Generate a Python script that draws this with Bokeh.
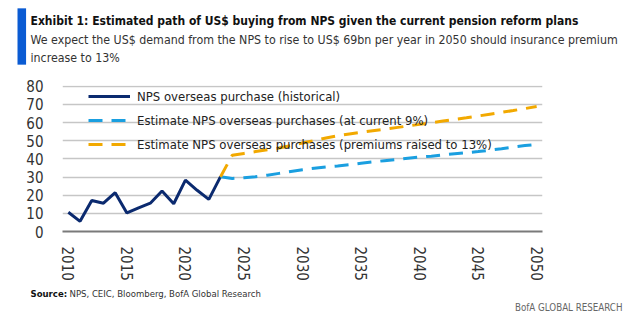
from bokeh.plotting import figure
from bokeh.models import Legend, LegendItem, Label, FixedTicker, Range1d
from bokeh.embed import file_html
from bokeh.resources import INLINE

# ---- data ----
hist_years = list(range(2010, 2024))
hist_vals = [10.6, 5.6, 17.1, 15.6, 21.4, 10.2, 13.0, 15.6, 22.3, 15.3, 28.3, 22.7, 17.7, 30.2]

proj_years = list(range(2023, 2051))
current_9 = [30.2, 29.2, 29.6, 30.2, 31.0, 32.0, 33.0, 34.0, 34.8, 35.5, 36.1, 36.8, 37.6, 38.3,
             39.0, 39.6, 40.3, 41.0, 41.5, 42.2, 42.8, 43.4, 44.0, 44.8, 45.6, 46.5, 47.3, 48.0]
raised_13 = [30.2, 42.0, 43.0, 44.0, 45.0, 46.0, 47.3, 48.7, 50.0, 51.5, 52.7, 53.7, 54.6, 55.5,
             56.3, 57.2, 58.1, 59.0, 59.9, 60.8, 61.7, 62.6, 63.6, 64.6, 65.6, 66.6, 67.7, 68.8]

x_ticks = [2010, 2015, 2020, 2025, 2030, 2035, 2040, 2045, 2050]
y_ticks = [0, 10, 20, 30, 40, 50, 60, 70, 80]

series_labels = ["NPS overseas purchase (historical)",
                 "Estimate NPS overseas purchases (at current 9%)",
                 "Estimate NPS overseas purchases (premiums raised to 13%)"]

title_text = "Exhibit 1:  Estimated path of US$ buying from NPS given the current pension reform plans"
subtitle_1 = "We expect the US$ demand from the NPS to rise to US$ 69bn per year in 2050 should insurance premium"
subtitle_2 = "increase to 13%"
source_bold = "Source:"
source_text = "NPS, CEIC, Bloomberg, BofA Global Research"
brand_text = "BofA GLOBAL RESEARCH"

# ---- style ----
FONT = "DejaVu Sans Condensed"
NAVY = "#0b2a6f"
BLUE = "#1a9fe0"
ORANGE = "#f2a900"

W, H = 640, 328
FL, FR, FT, FB = 62, 542, 86, 231  # frame edges in canvas px

p = figure(width=W, height=H, output_backend="svg", toolbar_location=None,
           x_range=Range1d(2009.5, 2050.5), y_range=Range1d(0, 80.4),
           min_border_left=FL, min_border_right=W - FR,
           min_border_top=FT - 1, min_border_bottom=H - FB)
p.outline_line_color = None
p.background_fill_color = "white"
p.border_fill_color = "white"

p.xgrid.grid_line_color = None
p.ygrid.grid_line_color = "#c6c6c6"
p.ygrid.grid_line_width = 1.5
p.ygrid.ticker = FixedTicker(ticks=y_ticks)

p.yaxis.ticker = FixedTicker(ticks=y_ticks)
p.yaxis.axis_line_color = None
p.yaxis.major_tick_line_color = None
p.yaxis.minor_tick_line_color = None
p.yaxis.major_label_standoff = 13
p.yaxis.major_label_text_font = FONT
p.yaxis.major_label_text_font_size = "15px"
p.yaxis.major_label_text_color = "#333333"

p.xaxis.ticker = FixedTicker(ticks=x_ticks)
p.xaxis.axis_line_color = "#7a7a7a"
p.xaxis.axis_line_width = 2
p.xaxis.major_tick_line_color = None
p.xaxis.minor_tick_line_color = None
p.xaxis.major_label_orientation = "vertical"
p.xaxis.major_label_standoff = 9
p.xaxis.major_label_text_font = FONT
p.xaxis.major_label_text_font_size = "15px"
p.xaxis.major_label_text_color = "#333333"

r_hist = p.line(hist_years, hist_vals, line_color=NAVY, line_width=3)
r_9 = p.line(proj_years, current_9, line_color=BLUE, line_width=3, line_dash="14 9")
r_13 = p.line(proj_years, raised_13, line_color=ORANGE, line_width=3, line_dash="14 9")

legend = Legend(items=[LegendItem(label=series_labels[0], renderers=[r_hist]),
                       LegendItem(label=series_labels[1], renderers=[r_9]),
                       LegendItem(label=series_labels[2], renderers=[r_13])],
                location=(26, 77), background_fill_alpha=0, border_line_color=None,
                padding=0, margin=0, spacing=4, glyph_width=42, glyph_height=20,
                label_height=20, label_standoff=7,
                label_text_font=FONT, label_text_font_size="13px",
                label_text_color="#222222")
p.add_layout(legend)


# ---- header / footer (in side panels so they are not clipped to the frame) ----
def canvas_label(x, y, text, size, color, bold=False, align="left"):
    return Label(x=x, y=y, x_units="canvas", y_units="canvas", text=text,
                 text_font=FONT, text_font_style="bold" if bold else "normal",
                 text_font_size=size, text_color=color, text_align=align,
                 text_baseline="middle")


# blue accent bar: a blank label with a filled background box (in the left panel)
bar = Label(x=17, y=36, x_units="canvas", y_units="canvas", text=" ",
            text_font=FONT, text_font_size="2px", text_baseline="middle",
            background_fill_color="#0a5bd3", background_fill_alpha=1.0,
            padding=dict(left=4, right=4, top=27, bottom=27))
p.add_layout(bar, "left")

p.add_layout(canvas_label(30, 20, title_text, "12px", "#111111", bold=True), "above")
p.add_layout(canvas_label(30, 39, subtitle_1, "12.3px", "#333333"), "above")
p.add_layout(canvas_label(30, 57, subtitle_2, "12.3px", "#333333"), "above")
p.add_layout(canvas_label(30, 293, source_bold, "9.5px", "#111111", bold=True), "below")
p.add_layout(canvas_label(69, 293, source_text, "9.5px", "#333333"), "below")
p.add_layout(canvas_label(622, 307, brand_text, "9.7px", "#666666", align="right"), "below")

open("out.html", "w").write(file_html(p, INLINE))
